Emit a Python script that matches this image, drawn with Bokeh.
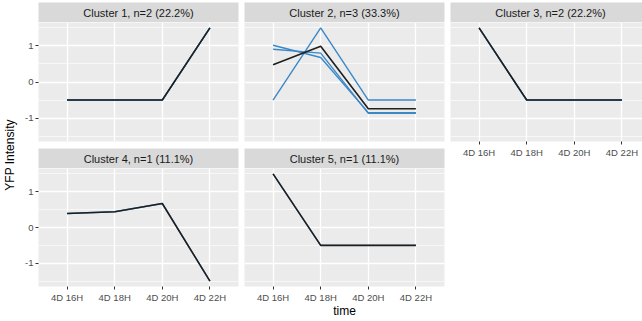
import math
from bokeh.plotting import figure
from bokeh.layouts import row, column
from bokeh.models import Range1d, FixedTicker
from bokeh.core.properties import value
from bokeh.embed import file_html
from bokeh.resources import INLINE

# ---- data -------------------------------------------------------------
times = ["4D 16H", "4D 18H", "4D 20H", "4D 22H"]
titles = [
    "Cluster 1, n=2 (22.2%)",
    "Cluster 2, n=3 (33.3%)",
    "Cluster 3, n=2 (22.2%)",
    "Cluster 4, n=1 (11.1%)",
    "Cluster 5, n=1 (11.1%)",
]

# scaled YFP intensity of every member, per cluster
members_1 = [[-0.5, -0.5, -0.5, 1.5], [-0.5, -0.5, -0.5, 1.5]]
members_2 = [[1.02, 0.68, -0.85, -0.85], [0.91, 0.80, -0.87, -0.87], [-0.5, 1.5, -0.5, -0.5]]
members_3 = [[1.5, -0.5, -0.5, -0.5], [1.5, -0.5, -0.5, -0.5]]
members_4 = [[0.39, 0.44, 0.67, -1.5]]
members_5 = [[1.5, -0.5, -0.5, -0.5]]

# cluster centres
centroid_1 = [-0.5, -0.5, -0.5, 1.5]
centroid_2 = [0.48, 0.99, -0.74, -0.74]
centroid_3 = [1.5, -0.5, -0.5, -0.5]
centroid_4 = [0.39, 0.44, 0.67, -1.5]
centroid_5 = [1.5, -0.5, -0.5, -0.5]

y_ticks = [-1, 0, 1]
y_minor = [-1.5, -0.5, 0.5, 1.5]

# ---- style ------------------------------------------------------------
FONT = "Liberation Sans"
PANEL_BG = "#EBEBEB"
STRIP_BG = "#D9D9D9"
MEMBER_COLOR = "#3B88C8"
CENTRE_COLOR = "#1F1F1F"

xs = list(range(1, len(times) + 1))
X_START, X_END = 0.4, 4.6
Y_START, Y_END = -1.65, 1.65
FRAME_W = 200
FRAME_H = 119
STRIP_H = 20
LEFT_PAD = 18

# column borders: (left, frame width, right)
COLS = [(20, 200, 3), (3, 200, 3), (3, 192, 0)]


def x_end_for(frame_w):
    return X_START + frame_w / FRAME_W * (X_END - X_START)


def style_axis(ax):
    ax.axis_line_color = None
    ax.major_tick_line_color = "#333333"
    ax.major_tick_out = 3
    ax.major_tick_in = 0
    ax.minor_tick_line_color = None
    ax.major_label_text_font = FONT
    ax.major_label_text_font_size = "9.5px"
    ax.major_label_text_color = "#4D4D4D"
    ax.major_label_standoff = 2


def make_strip(title, col, top):
    left, fw, right = COLS[col]
    s = figure(width=left + fw + right, height=STRIP_H + top,
               x_range=Range1d(X_START, x_end_for(fw)), y_range=Range1d(0, 1),
               x_axis_location=None, y_axis_location=None,
               output_backend="svg", toolbar_location=None,
               min_border_left=left, min_border_right=right,
               min_border_top=top, min_border_bottom=0)
    s.xgrid.visible = False
    s.ygrid.visible = False
    s.outline_line_color = None
    s.background_fill_color = STRIP_BG
    s.border_fill_color = "white"
    s.text(x=[(X_START + X_END) / 2], y=[0.5], text=[title],
           text_align="center", text_baseline="middle",
           text_font=value(FONT), text_font_size="11px", text_color="#1A1A1A")
    return s


def make_panel(members, centre, col, show_x, bottom):
    left, fw, right = COLS[col]
    p = figure(width=left + fw + right, height=FRAME_H + bottom,
               x_range=Range1d(X_START, x_end_for(fw)),
               y_range=Range1d(Y_START, Y_END),
               x_axis_location="below" if show_x else None,
               y_axis_location="left" if col == 0 else None,
               output_backend="svg", toolbar_location=None,
               min_border_left=left, min_border_right=right,
               min_border_top=0, min_border_bottom=bottom)
    p.outline_line_color = None
    p.background_fill_color = PANEL_BG
    p.border_fill_color = "white"

    p.xgrid.ticker = FixedTicker(ticks=xs)
    p.ygrid.ticker = FixedTicker(ticks=y_ticks, minor_ticks=y_minor)
    p.xgrid.grid_line_color = "white"
    p.ygrid.grid_line_color = "white"
    p.xgrid.grid_line_width = 1.3
    p.ygrid.grid_line_width = 1.3
    p.ygrid.minor_grid_line_color = "white"
    p.ygrid.minor_grid_line_width = 0.6

    if show_x:
        p.xaxis.ticker = FixedTicker(ticks=xs)
        p.xaxis.major_label_overrides = {x: t for x, t in zip(xs, times)}
        style_axis(p.xaxis[0])
    if col == 0:
        p.yaxis.ticker = FixedTicker(ticks=y_ticks)
        p.yaxis.major_label_overrides = {t: str(t) for t in y_ticks}
        style_axis(p.yaxis[0])

    for m in members:
        p.line(xs, m, line_color=MEMBER_COLOR, line_width=1.4)
    p.line(xs, centre, line_color=CENTRE_COLOR, line_width=1.6)
    return p


ROW_GAP = 7
AXIS_H = 18

col1 = column(
    make_strip(titles[0], 0, 2),
    make_panel(members_1, centroid_1, 0, False, ROW_GAP),
    make_strip(titles[3], 0, 0),
    make_panel(members_4, centroid_4, 0, True, AXIS_H),
)
col2 = column(
    make_strip(titles[1], 1, 2),
    make_panel(members_2, centroid_2, 1, False, ROW_GAP),
    make_strip(titles[4], 1, 0),
    make_panel(members_5, centroid_5, 1, True, AXIS_H),
)
col3 = column(
    make_strip(titles[2], 2, 2),
    make_panel(members_3, centroid_3, 2, True, AXIS_H + 2),
)

TOTAL_W, TOTAL_H = 642, 321
grid_h = 2 + STRIP_H + FRAME_H + ROW_GAP + STRIP_H + FRAME_H + AXIS_H

# shared x-axis title below the panels
time_h = TOTAL_H - grid_h
tfig = figure(width=TOTAL_W - LEFT_PAD, height=time_h,
              x_range=Range1d(LEFT_PAD, TOTAL_W), y_range=Range1d(0, time_h),
              x_axis_location=None, y_axis_location=None,
              output_backend="svg", toolbar_location=None, min_border=0)
tfig.xgrid.visible = False
tfig.ygrid.visible = False
tfig.outline_line_color = None
panels_left = LEFT_PAD + COLS[0][0]
panels_right = panels_left + 3 * FRAME_W + 2 * 6
tfig.text(x=[(panels_left + panels_right) / 2], y=[time_h - 5.5], text=["time"],
          text_align="center", text_baseline="middle",
          text_font=value(FONT), text_font_size="12px", text_color="black")

# shared y-axis title left of the panels
lfig = figure(width=LEFT_PAD, height=TOTAL_H,
              x_range=Range1d(0, LEFT_PAD), y_range=Range1d(0, TOTAL_H),
              x_axis_location=None, y_axis_location=None,
              output_backend="svg", toolbar_location=None, min_border=0)
lfig.xgrid.visible = False
lfig.ygrid.visible = False
lfig.outline_line_color = None
panels_mid = TOTAL_H - (2 + STRIP_H + grid_h - AXIS_H) / 2
lfig.text(x=[9], y=[panels_mid], text=["YFP Intensity"], angle=math.pi / 2,
          text_align="center", text_baseline="middle",
          text_font=value(FONT), text_font_size="12px", text_color="black")

layout = row(lfig, column(row(col1, col2, col3), tfig))

with open("out.html", "w") as f:
    f.write(file_html(layout, INLINE))
